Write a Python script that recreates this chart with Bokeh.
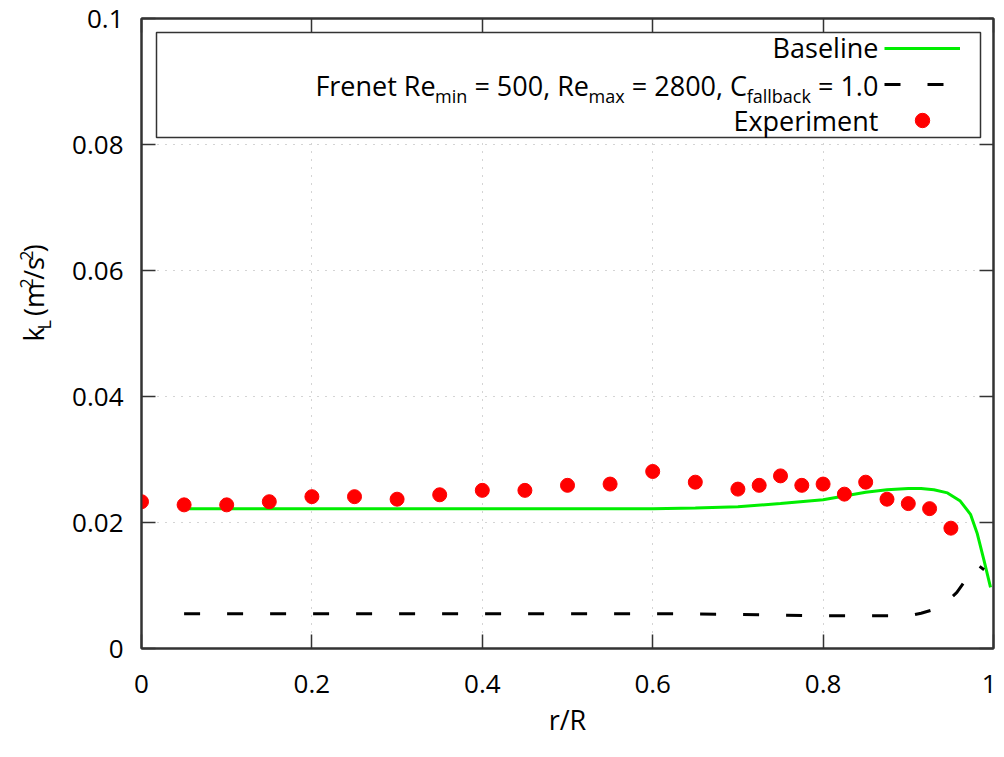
import glob
import math
import os

from bokeh.plotting import figure
from bokeh.layouts import row
from bokeh.models import (Range1d, FixedTicker, LinearAxis, Label, BoxAnnotation,
                          Legend, LegendItem, CustomJSTickFormatter)
from bokeh.embed import file_html
from bokeh.resources import INLINE

# ---------------- data ----------------
exp_r = [0.0, 0.05, 0.1, 0.15, 0.2, 0.25, 0.3, 0.35, 0.4, 0.45, 0.5, 0.55, 0.6,
         0.65, 0.7, 0.725, 0.75, 0.775, 0.8, 0.825, 0.85, 0.875, 0.9, 0.925, 0.95]
exp_k = [0.0233, 0.0228, 0.0228, 0.0233, 0.0241, 0.0241, 0.0237, 0.0244, 0.0251,
         0.0251, 0.0259, 0.0261, 0.0281, 0.0264, 0.0253, 0.0259, 0.0274, 0.0259,
         0.0261, 0.0245, 0.0264, 0.0237, 0.0230, 0.0222, 0.0191]

base_r = [0.05, 0.1, 0.2, 0.3, 0.4, 0.5, 0.6, 0.65, 0.7, 0.75, 0.8, 0.825, 0.85,
          0.875, 0.9, 0.915, 0.93, 0.946, 0.961, 0.973, 0.981, 0.989, 0.9965]
base_k = [0.0222, 0.0222, 0.0222, 0.0222, 0.0222, 0.0222, 0.0222, 0.0223, 0.0225,
          0.0230, 0.0236, 0.0242, 0.0248, 0.0252, 0.0254, 0.0254, 0.0252, 0.0247,
          0.0234, 0.0213, 0.0182, 0.0139, 0.0097]

frenet_r = [0.05, 0.2, 0.4, 0.6, 0.65, 0.7, 0.75, 0.8, 0.85, 0.89, 0.905, 0.915,
            0.93, 0.945, 0.957, 0.966, 0.973, 0.981, 0.989]
frenet_k = [0.0055, 0.0055, 0.0055, 0.0055, 0.0055, 0.0054, 0.0053, 0.0052, 0.0052,
            0.0052, 0.0053, 0.0056, 0.0062, 0.0074, 0.0089, 0.0106, 0.0124, 0.0133,
            0.0125]

x_ticks = [0, 0.2, 0.4, 0.6, 0.8, 1.0]
x_tick_labels = ["0", "0.2", "0.4", "0.6", "0.8", "1"]
y_ticks = [0, 0.02, 0.04, 0.06, 0.08, 0.1]
y_tick_labels = ["0", "0.02", "0.04", "0.06", "0.08", "0.1"]
x_title = "r/R"

# texts with sub/superscripts: (text, kind) kind 0 normal, -1 subscript, 1 superscript
y_title_parts = [("k", 0), ("L", -1), (" (m", 0), ("2", 1), ("/s", 0), ("2", 1), (")", 0)]
legend_rows = [
    [("Baseline", 0)],
    [("Frenet Re", 0), ("min", -1), (" = 500, Re", 0), ("max", -1),
     (" = 2800, C", 0), ("fallback", -1), (" = 1.0", 0)],
    [("Experiment", 0)],
]

# ---------------- styling / layout ----------------
FONT = "Open Sans"
FS = 27          # legend / titles
TICK_FS = 26     # tick labels
SUB_FS = 18
TITLE_W = 60                      # width of the strip holding the y title
PAGE_L, PAGE_T, FW, FH = 141, 18, 852, 630      # frame position on the page
BOTTOM = 108
TOTAL_H = PAGE_T + FH + BOTTOM
X_LO, X_HI, Y_LO, Y_HI = 0.0, 1.0, 0.0, 0.1


def dx(page_x):
    return X_LO + (page_x - PAGE_L) / FW * (X_HI - X_LO)


def dy(page_y):
    return Y_LO + (PAGE_T + FH - page_y) / FH * (Y_HI - Y_LO)


def _font_file():
    cands = []
    for root in ["/usr/share/fonts", "/usr/local/share/fonts",
                 os.path.expanduser("~/.fonts"), os.path.expanduser("~/.local/share/fonts")]:
        cands += glob.glob(os.path.join(root, "**", "OpenSans*.ttf"), recursive=True)
        cands += glob.glob(os.path.join(root, "**", "OpenSans*.otf"), recursive=True)
    bad = ("Bold", "Italic", "Light", "Semi", "Extra", "Condensed", "Medium")
    good = [c for c in cands if not any(b in os.path.basename(c) for b in bad)]
    good.sort(key=lambda c: ("Regular" not in os.path.basename(c), len(c)))
    return good[0] if good else None


_FF = _font_file()
_cache = {}
_W = {" ": .26, "=": .571, ",": .248, ".": .266, "(": .296, ")": .296, "/": .367,
      "i": .253, "l": .253, "t": .353, "r": .408, "f": .344, "m": .93, "s": .473,
      "c": .479, "x": .525, "k": .529, "a": .556, "R": .621, "C": .615, "F": .545,
      "L": .5, "E": .56}


def tw(text, size):
    if _FF:
        try:
            from PIL import ImageFont
            f = _cache.get(size)
            if f is None:
                f = ImageFont.truetype(_FF, size)
                _cache[size] = f
            return f.getlength(text)
        except Exception:
            pass
    return sum(_W.get(ch, 0.571) for ch in text) * size


def pieces(parts):
    """Split parts into (offset, text, kind, size); leading/trailing blanks become offsets."""
    out = []
    pos = 0.0
    for t, k in parts:
        size = FS if k == 0 else SUB_FS
        core = t.strip(" ")
        lead = len(t) - len(t.lstrip(" "))
        trail = len(t) - len(t.rstrip(" "))
        pos += tw(" " * lead, size) if lead else 0
        out.append((pos, core, k, size))
        pos += tw(core, size)
        pos += tw(" " * trail, size) if trail else 0
    return out, pos


def center_shift(k, size):
    """offset of a piece's vertical centre from the main text baseline (down = +)."""
    mid = 0.388 * size                      # centre of the font box above its baseline
    if k == -1:
        return 7 - mid
    if k == 1:
        return -10 - mid
    return -mid


def tick_formatter(tvals, tlabels):
    return CustomJSTickFormatter(
        args=dict(tv=tvals, tl=tlabels),
        code="const i = tv.findIndex(t => Math.abs(t - tick) < 1e-9); return i >= 0 ? tl[i] : '';")


# ---------------- main plot ----------------
p = figure(frame_width=FW, frame_height=FH,
           x_range=Range1d(X_LO, X_HI), y_range=Range1d(Y_LO, Y_HI),
           min_border_left=PAGE_L - TITLE_W, min_border_right=3, min_border_top=PAGE_T,
           min_border_bottom=BOTTOM, output_backend="svg", toolbar_location=None,
           background_fill_color="white", border_fill_color="white")
p.outline_line_color = "#333333"
p.outline_line_width = 2

p.xaxis.ticker = FixedTicker(ticks=x_ticks)
p.yaxis.ticker = FixedTicker(ticks=y_ticks)
p.xaxis.formatter = tick_formatter(x_ticks, x_tick_labels)
p.yaxis.formatter = tick_formatter(y_ticks, y_tick_labels)
p.xaxis.major_label_standoff = 26
p.yaxis.major_label_standoff = 18
p.xaxis.axis_label = x_title
p.xaxis.axis_label_standoff = 5
p.xaxis.axis_label_text_font = FONT
p.xaxis.axis_label_text_font_size = f"{FS}px"
p.xaxis.axis_label_text_font_style = "normal"
p.xaxis.axis_label_text_color = "black"

for ax in (p.xaxis[0], p.yaxis[0]):
    ax.major_tick_in = 14
    ax.major_tick_out = 0
    ax.minor_tick_line_color = None
    ax.major_tick_line_color = "#333333"
    ax.major_tick_line_width = 1.5
    ax.axis_line_color = "#333333"
    ax.axis_line_width = 2
    ax.major_label_text_font = FONT
    ax.major_label_text_font_size = f"{TICK_FS}px"
    ax.major_label_text_color = "black"

for loc, tk in (("above", x_ticks), ("right", y_ticks)):
    ax = LinearAxis(ticker=FixedTicker(ticks=tk), formatter=CustomJSTickFormatter(code="return '';"),
                    major_tick_in=14, major_tick_out=0, minor_tick_line_color=None,
                    major_tick_line_color="#333333", major_tick_line_width=1.5,
                    axis_line_color="#333333", axis_line_width=2,
                    major_label_standoff=0, major_label_text_font_size="0px")
    p.add_layout(ax, loc)

for g in (p.xgrid[0], p.ygrid[0]):
    g.grid_line_color = "#a8a8a8"
    g.grid_line_width = 1
    g.grid_line_dash = "1 7"

r_base = p.line(base_r, base_k, line_color="#00ee00", line_width=3)
r_fr = p.line(frenet_r, frenet_k, line_color="black", line_width=3, line_dash="16 27")
r_exp = p.scatter(exp_r, exp_k, marker="circle", size=14, fill_color="red", line_color="red")

# legend frame (gnuplot style key box)
box = BoxAnnotation(left=dx(156), right=dx(980), top=dy(32), bottom=dy(137),
                    fill_color="white", fill_alpha=1.0,
                    line_color="#333333", line_alpha=1.0, line_width=1.5)
p.add_layout(box)

# legend samples (to the right of the texts, as in the reference)
leg = Legend(items=[LegendItem(label=" ", renderers=[r]) for r in (r_base, r_fr, r_exp)],
             location=(884 - PAGE_L, PAGE_T + FH - 138),
             padding=0, spacing=0, margin=0, glyph_width=76, glyph_height=36,
             label_standoff=0, label_width=0, label_height=0,
             label_text_font_size="1px",
             border_line_color=None, background_fill_alpha=0)
p.add_layout(leg, "center")

# legend texts, right-aligned, with subscripts
row_baselines = [57, 95, 130]
TEXT_RIGHT = 878
for parts, base in zip(legend_rows, row_baselines):
    items, total = pieces(parts)
    x0 = TEXT_RIGHT - total
    for off, t, k, size in items:
        yc = base + center_shift(k, size)
        p.add_layout(Label(x=dx(x0 + off), y=dy(yc), text=t, text_font=FONT,
                           text_font_size=f"{size}px",
                           text_align="left", text_baseline="middle", text_color="black"))

# ---------------- y title strip (left of the main plot) ----------------
t = figure(width=TITLE_W, height=TOTAL_H, x_range=Range1d(0, TITLE_W),
           y_range=Range1d(TOTAL_H, 0), min_border=0, x_axis_location=None,
           y_axis_location=None, output_backend="svg", toolbar_location=None,
           background_fill_color="white", border_fill_color="white")
t.outline_line_color = None
t.grid.visible = False

Y_TITLE_BASE_X = 43       # baseline of the rotated title (glyphs extend to the left)
Y_TITLE_CENTER = 330
items, total = pieces(y_title_parts)
start = Y_TITLE_CENTER + total / 2
for off, txt, k, size in items:
    xc = Y_TITLE_BASE_X + center_shift(k, size)
    t.add_layout(Label(x=xc, y=start - off, text=txt, angle=math.pi / 2, text_font=FONT,
                       text_font_size=f"{size}px",
                       text_align="left", text_baseline="middle", text_color="black"))

layout = row(t, p)
open("out.html", "w").write(file_html(layout, INLINE))
